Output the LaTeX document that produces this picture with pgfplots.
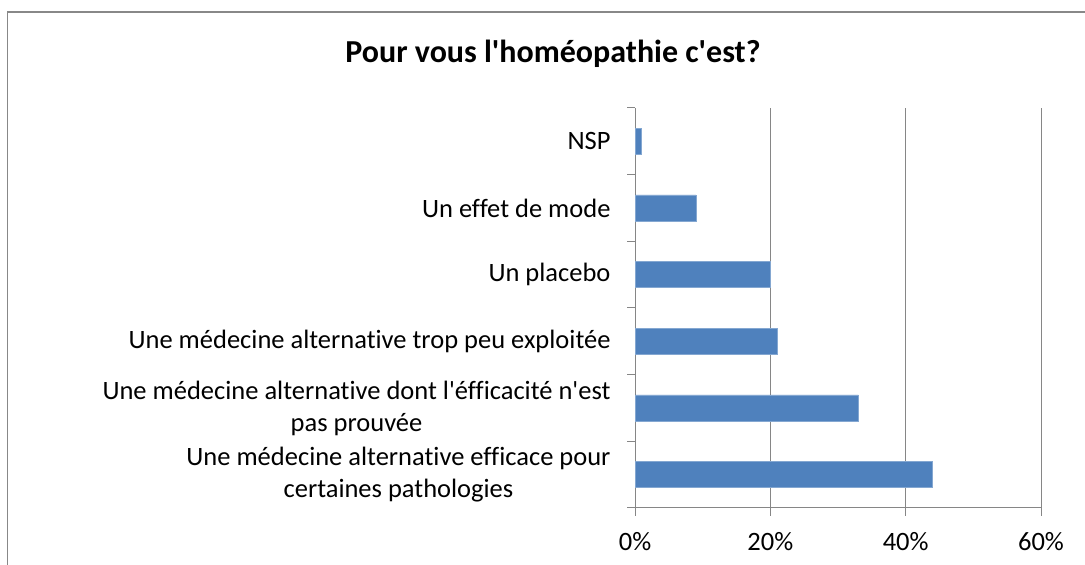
\documentclass[border=0pt]{standalone}
\usepackage{pgfplots}
\pgfplotsset{compat=1.18}
\usepackage{fontspec}
\setmainfont{Carlito}[Ligatures={TeXOff,CommonOff}]
\definecolor{barblue}{HTML}{4F81BD}
\definecolor{gridgray}{HTML}{868686}
\definecolor{framegray}{HTML}{888888}
\begin{document}
\begin{tikzpicture}[x=1bp,y=1bp]
\useasboundingbox (0,0) rectangle (1085,565);
\draw[framegray,line width=1.5bp] (7.5,-20) -- (7.5,553) -- (1100,553);
\node[font=\fontsize{32bp}{38bp}\selectfont\bfseries] at (553,511) {Pour vous l\textquotesingle homéopathie c\textquotesingle est?};
\begin{axis}[
  at={(635bp,57bp)}, anchor=south west,
  scale only axis, width=406bp, height=400bp,
  xmin=0, xmax=60, ymin=-0.5, ymax=5.5,
  axis lines=left, axis line style={-, gridgray, line width=1bp},
  xtick={0,20,40,60}, xticklabels={0\%,20\%,40\%,60\%},
  xmajorgrids, major grid style={gridgray, line width=1bp},
  ytick={-0.5,0.5,...,5.5}, yticklabels={},
  extra y ticks={0,...,5},
  extra y tick labels={{Une médecine alternative efficace pour\\certaines pathologies},
               {Une médecine alternative dont l\textquotesingle éfficacité n\textquotesingle est\\pas prouvée},
               {Une médecine alternative trop peu exploitée},
               {Un placebo},{Un effet de mode},{NSP}},
  extra y tick style={major tick length=0pt, ymajorgrids=false},
  tick align=outside,
  major tick length=8bp,
  tick style={gridgray, line width=1bp},
  yticklabel style={font=\fontsize{26.5bp}{32bp}\selectfont, align=center, xshift=-21bp},
  xticklabel style={font=\fontsize{26.5bp}{32bp}\selectfont, yshift=-13bp},
  tick label style={text=black},
  clip=false,
]
\addplot[xbar, bar width=26bp, fill=barblue, draw=barblue!70!white, line width=0.6bp]
  coordinates {(44,0) (33,1) (21,2) (20,3) (9,4) (1,5)};
\end{axis}
\end{tikzpicture}
\end{document}
